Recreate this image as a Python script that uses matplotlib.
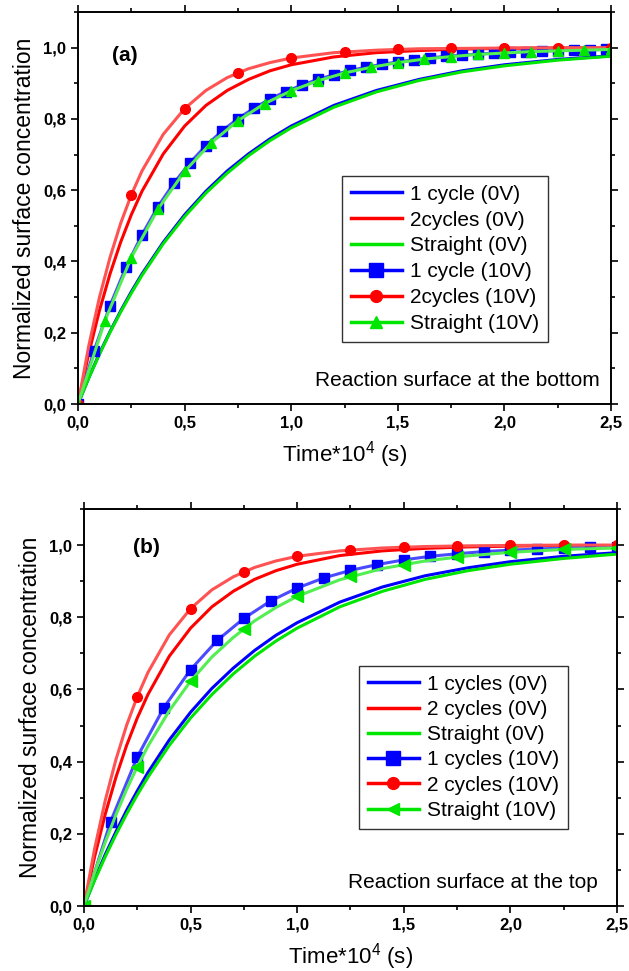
import matplotlib
matplotlib.use('Agg')
import matplotlib.pyplot as plt
from matplotlib.lines import Line2D
from matplotlib.ticker import MultipleLocator, FuncFormatter

# tick labels are bold, everything else is set back to normal below
plt.rcParams['font.family'] = ['Liberation Sans', 'DejaVu Sans']
plt.rcParams['font.weight'] = 'bold'
plt.rcParams['mathtext.default'] = 'regular'

# common time grid for the continuous curves (Time*10^4 s)
t_fine = [0, 0.05, 0.1, 0.15, 0.2, 0.25, 0.3, 0.4, 0.5, 0.6, 0.7, 0.8, 0.9,
          1.0, 1.2, 1.4, 1.6, 1.8, 2.0, 2.25, 2.5]

# ---- (a) reaction surface at the bottom ----
a_1c_0v = [0, 0.073, 0.141, 0.203, 0.261, 0.315, 0.365, 0.454, 0.531, 0.597, 0.654,
           0.702, 0.744, 0.780, 0.838, 0.880, 0.911, 0.935, 0.952, 0.967, 0.977]
a_2c_0v = [0, 0.141, 0.261, 0.365, 0.454, 0.531, 0.597, 0.702, 0.780, 0.838, 0.880,
           0.911, 0.935, 0.952, 0.974, 0.986, 0.992, 0.996, 0.998, 0.999, 0.999]
a_st_0v = [0, 0.072, 0.139, 0.201, 0.258, 0.311, 0.361, 0.450, 0.526, 0.592, 0.648,
           0.697, 0.739, 0.775, 0.833, 0.876, 0.908, 0.932, 0.949, 0.965, 0.976]
a_2c_10v_line = [0, 0.162, 0.298, 0.411, 0.507, 0.587, 0.654, 0.757, 0.829, 0.880, 0.916,
                 0.941, 0.958, 0.971, 0.986, 0.993, 0.997, 0.998, 0.999, 1.0, 1.0]

a_t_sq = [0, 0.075, 0.15, 0.225, 0.3, 0.375, 0.45, 0.525, 0.6, 0.675, 0.75, 0.825,
          0.9, 0.975, 1.05, 1.125, 1.2, 1.275, 1.35, 1.425, 1.5, 1.575, 1.65, 1.725,
          1.8, 1.875, 1.95, 2.025, 2.1, 2.175, 2.25, 2.325, 2.4, 2.475]
a_1c_10v = [0, 0.149, 0.276, 0.384, 0.475, 0.554, 0.620, 0.677, 0.725, 0.766, 0.801,
            0.830, 0.856, 0.877, 0.895, 0.911, 0.924, 0.936, 0.945, 0.953, 0.960,
            0.966, 0.971, 0.976, 0.979, 0.982, 0.985, 0.987, 0.989, 0.991, 0.992,
            0.993, 0.994, 0.995]
a_t_tri = [0, 0.125, 0.25, 0.375, 0.5, 0.625, 0.75, 0.875, 1.0, 1.125, 1.25, 1.375,
           1.5, 1.625, 1.75, 1.875, 2.0, 2.125, 2.25, 2.375, 2.5]
a_st_10v = [0, 0.232, 0.411, 0.547, 0.653, 0.733, 0.795, 0.843, 0.879, 0.907, 0.929,
            0.945, 0.958, 0.968, 0.975, 0.981, 0.985, 0.989, 0.991, 0.993, 0.995]
t_circ = [0, 0.25, 0.5, 0.75, 1.0, 1.25, 1.5, 1.75, 2.0, 2.25, 2.5]
a_2c_10v = [0, 0.587, 0.829, 0.929, 0.971, 0.988, 0.995, 0.998, 0.999, 1.0, 1.0]

# ---- (b) reaction surface at the top ----
b_1c_0v = [0, 0.074, 0.143, 0.206, 0.265, 0.319, 0.370, 0.460, 0.537, 0.603, 0.659,
           0.708, 0.750, 0.785, 0.842, 0.884, 0.915, 0.937, 0.954, 0.969, 0.979]
b_2c_0v = [0, 0.137, 0.255, 0.357, 0.445, 0.521, 0.586, 0.692, 0.770, 0.829, 0.872,
           0.905, 0.929, 0.947, 0.971, 0.984, 0.991, 0.995, 0.997, 0.999, 0.999]
b_st_0v = [0, 0.071, 0.137, 0.198, 0.255, 0.308, 0.357, 0.445, 0.521, 0.586, 0.643,
           0.692, 0.734, 0.770, 0.829, 0.872, 0.905, 0.929, 0.947, 0.963, 0.975]
b_2c_10v_line = [0, 0.159, 0.293, 0.406, 0.501, 0.580, 0.647, 0.751, 0.824, 0.876, 0.912,
                 0.938, 0.956, 0.969, 0.984, 0.992, 0.996, 0.998, 0.999, 1.0, 1.0]
b_st_10v_line = [0, 0.093, 0.177, 0.253, 0.323, 0.386, 0.443, 0.541, 0.623, 0.690, 0.744,
                 0.790, 0.827, 0.858, 0.904, 0.935, 0.956, 0.970, 0.980, 0.988, 0.992]

b_t_sq = a_t_tri
b_1c_10v = [0, 0.234, 0.413, 0.550, 0.655, 0.736, 0.797, 0.845, 0.881, 0.909, 0.930,
            0.946, 0.959, 0.969, 0.976, 0.982, 0.986, 0.989, 0.992, 0.994, 0.995]
b_2c_10v = [0, 0.580, 0.824, 0.926, 0.969, 0.987, 0.995, 0.998, 0.999, 1.0, 1.0]
b_st_10v = [0, 0.386, 0.623, 0.768, 0.858, 0.913, 0.946, 0.967, 0.980, 0.988, 0.992]

labels_a = ['1 cycle (0V)', '2cycles (0V)', 'Straight (0V)',
            '1 cycle (10V)', '2cycles (10V)', 'Straight (10V)']
labels_b = ['1 cycles (0V)', '2 cycles (0V)', 'Straight (0V)',
            '1 cycles (10V)', '2 cycles (10V)', 'Straight (10V)']

BLUE = '#0000ff'
RED = '#ff0000'
GREEN = '#00e600'
LBLUE = '#4a4aff'
LRED = '#ff5252'
LGREEN = '#52ee52'


def comma(v, pos):
    return f'{v:.1f}'.replace('.', ',')


def style_axes(ax):
    ax.set_xlim(0, 2.5)
    ax.set_ylim(0, 1.1)
    ax.xaxis.set_major_locator(MultipleLocator(0.5))
    ax.xaxis.set_minor_locator(MultipleLocator(0.25))
    ax.yaxis.set_major_locator(MultipleLocator(0.2))
    ax.yaxis.set_minor_locator(MultipleLocator(0.1))
    ax.xaxis.set_major_formatter(FuncFormatter(comma))
    ax.yaxis.set_major_formatter(FuncFormatter(comma))
    ax.tick_params(which='both', direction='out', top=True, right=True,
                   labelsize=12, width=1.2, colors='black')
    ax.tick_params(which='major', length=5)
    ax.tick_params(which='minor', length=3)
    for s in ax.spines.values():
        s.set_linewidth(1.4)
    ax.set_xlabel('Time*10$^4$ (s)', fontsize=16, fontweight='normal', labelpad=6)
    ax.set_ylabel('Normalized surface concentration', fontsize=16.5,
                  fontweight='normal', labelpad=5)


def handles(tri_marker):
    return [
        Line2D([], [], color=BLUE, lw=2.5),
        Line2D([], [], color=RED, lw=2.5),
        Line2D([], [], color=GREEN, lw=2.5),
        Line2D([], [], color=BLUE, lw=2.5, marker='s', ms=10),
        Line2D([], [], color=RED, lw=2.5, marker='o', ms=8.5),
        Line2D([], [], color=GREEN, lw=2.5, marker=tri_marker, ms=9),
    ]


def add_legend(ax, labels, tri_marker, anchor, spacing):
    ax.legend(handles(tri_marker), labels, loc='upper left', bbox_to_anchor=anchor,
              borderaxespad=0, fancybox=False, edgecolor='#333333', framealpha=1,
              prop={'size': 15, 'weight': 'normal'}, handlelength=2.45,
              labelspacing=spacing, handletextpad=0.4, borderpad=0.42)


fig = plt.figure(figsize=(6.29, 9.71), dpi=100)
ax1 = fig.add_axes([0.124, 0.5839, 0.8474, 0.4037])
ax2 = fig.add_axes([0.1335, 0.0669, 0.8474, 0.4089])

# panel (a)
ax1.plot(t_fine, a_1c_0v, color=BLUE, lw=2.2)
ax1.plot(t_fine, a_2c_0v, color=RED, lw=2.2)
ax1.plot(t_fine, a_st_0v, color=GREEN, lw=2.2)
ax1.plot(a_t_sq, a_1c_10v, color=LBLUE, lw=2.2, marker='s', ms=7.5,
         mfc=BLUE, mec=BLUE)
ax1.plot(t_fine, a_2c_10v_line, color=LRED, lw=2.2)
ax1.plot(t_circ, a_2c_10v, ls='none', marker='o', ms=7, mfc=RED, mec=RED)
ax1.plot(a_t_tri, a_st_10v, color=LGREEN, lw=2.2, marker='^', ms=7.5,
         mfc=GREEN, mec=GREEN)
style_axes(ax1)
ax1.text(0.158, 0.978, '(a)', fontsize=15, fontweight='bold', va='center', ha='left')
ax1.text(2.445, 0.067, 'Reaction surface at the bottom', fontsize=15,
         fontweight='normal', ha='right', va='center')
add_legend(ax1, labels_a, '^', (0.495, 0.582), 0.33)

# panel (b)
ax2.plot(t_fine, b_1c_0v, color=BLUE, lw=2.2)
ax2.plot(t_fine, b_2c_0v, color=RED, lw=2.2)
ax2.plot(t_fine, b_st_0v, color=GREEN, lw=2.2)
ax2.plot(b_t_sq, b_1c_10v, color=LBLUE, lw=2.2, marker='s', ms=7.5,
         mfc=BLUE, mec=BLUE)
ax2.plot(t_fine, b_2c_10v_line, color=LRED, lw=2.2)
ax2.plot(t_circ, b_2c_10v, ls='none', marker='o', ms=7, mfc=RED, mec=RED)
ax2.plot(t_fine, b_st_10v_line, color=LGREEN, lw=2.2)
ax2.plot(t_circ, b_st_10v, ls='none', marker='<', ms=8, mfc=GREEN, mec=GREEN)
style_axes(ax2)
ax2.text(0.23, 0.994, '(b)', fontsize=15, fontweight='bold', va='center', ha='left')
ax2.text(2.41, 0.064, 'Reaction surface at the top', fontsize=15,
         fontweight='normal', ha='right', va='center')
add_legend(ax2, labels_b, '<', (0.516, 0.605), 0.3)

fig.savefig('out.png', dpi=100)
